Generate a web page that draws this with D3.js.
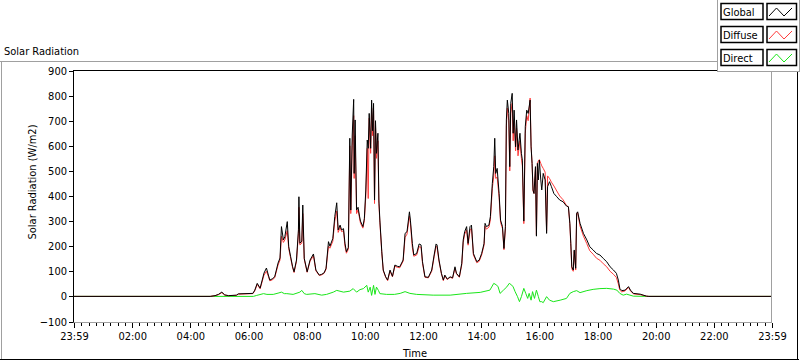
<!DOCTYPE html>
<html><head><meta charset="utf-8">
<script src="https://cdn.jsdelivr.net/npm/d3@7"></script>
<style>
body{margin:0;background:#fff;overflow:hidden;}
svg text{font-family:"DejaVu Sans Condensed","Noto Sans",sans-serif;font-size:11px;fill:#000;}
</style></head><body>
<svg id="c" width="800" height="361"></svg>
<script>
// Sample times (clock minutes after midnight; -1 = 23:59 of the previous day)
const timeMin = [-1,280,290,297,304,310,318,334,338,368,372,377,383,391,396,400,403,408,413,420,424,427,431,434,439,442,446,450,453,458,462,463,465,469,471,474,480,486,493,498,505,510,515,519,524,527,533,537,541,544,548,551,555,558,561,565,568,570,573,576,577,579,582,585,588,590,595,598,601,604,606,608,611,613,615,617,619,621,623,626,628,630,634,637,642,646,651,656,661,666,671,678,682,686,691,693,697,700,706,711,715,718,723,730,737,742,746,748,752,757,761,764,769,775,780,785,788,794,799,802,805,809,812,816,819,823,830,835,840,845,847,850,855,858,862,865,867,869,872,876,879,883,886,889,891,893,896,898,900,903,905,907,910,912,915,919,922,924,927,930,933,936,940,942,944,946,948,951,953,955,957,959,962,964,967,971,974,976,980,984,989,995,1001,1008,1015,1019,1022,1024,1026,1029,1031,1034,1036,1038,1043,1050,1057,1063,1070,1077,1084,1091,1098,1105,1112,1118,1122,1125,1129,1136,1143,1147,1153,1167,1180,1185,1439];
const globalRad = [0,0,3,8,17,6,3,5,10,12,25,52,33,93,113,85,65,70,78,133,153,278,225,238,298,198,158,118,98,145,265,397,212,220,364,152,98,145,169,105,85,88,94,112,218,200,231,318,373,265,284,265,270,212,178,195,630,344,643,785,490,703,344,355,320,300,278,310,424,623,590,729,590,782,660,769,384,700,570,650,384,304,178,105,78,65,105,80,125,120,118,145,251,258,337,304,211,165,171,209,205,138,78,76,105,165,209,205,145,92,65,85,69,78,74,118,92,78,132,225,258,278,211,278,284,171,138,145,171,211,291,278,284,318,450,517,630,490,510,410,304,278,191,278,703,782,729,517,769,809,650,742,596,703,583,650,570,543,300,676,742,729,782,596,530,424,410,517,240,530,464,543,464,424,490,464,251,437,457,437,410,397,384,377,360,357,291,211,118,105,185,112,331,337,291,251,225,198,185,171,165,151,138,118,105,92,65,32,23,25,39,25,12,9,1,0,0];
const diffuseRad = [0,0,3,7,15,5,3,4,9,11,22,48,30,85,100,80,62,66,74,125,145,240,215,225,262,190,152,114,95,140,250,355,205,212,330,148,96,140,162,102,83,86,92,108,200,192,220,300,340,255,275,258,262,200,172,188,600,330,600,720,470,640,330,345,312,292,272,302,400,590,390,710,570,750,640,740,370,680,550,620,370,295,172,102,76,63,100,78,120,116,114,140,235,248,320,292,195,160,165,198,196,132,76,74,100,158,200,196,140,90,63,82,67,76,72,112,90,76,126,215,248,265,204,262,272,165,134,140,165,204,280,268,276,305,430,480,560,470,475,395,295,270,186,270,680,750,700,500,730,770,620,700,580,670,560,620,550,520,290,650,720,700,790,600,530,420,410,510,245,530,540,545,530,520,510,495,260,480,470,455,440,420,400,385,362,357,285,200,110,100,180,105,331,335,280,240,210,182,168,152,144,130,118,100,88,75,50,25,18,22,36,22,10,7,1,0,0];
const directTime = [-1,286,369,376,390,397,410,420,427,433,438,451,465,469,474,479,496,510,520,534,541,555,568,575,582,589,596,603,606,610,613,617,620,623,627,630,644,660,672,682,692,706,740,775,809,837,857,865,871,874,878,885,892,897,902,905,909,914,918,922,927,931,935,938,942,945,949,953,957,960,964,967,974,980,988,1002,1015,1022,1029,1036,1043,1057,1070,1084,1098,1112,1119,1125,1132,1139,1146,1153,1180,1439];
const directRad = [0,0,0,4,11,8,8,13,17,11,11,8,17,24,11,8,11,5,8,17,24,17,21,31,17,27,31,44,17,37,4,44,8,37,24,11,8,8,12,19,12,8,5,5,12,16,25,52,45,38,12,25,38,52,45,38,19,-1,-21,-1,32,12,-8,12,-15,19,-8,25,-1,-21,-21,-25,-1,-15,-21,-15,-8,12,19,23,15,23,28,31,32,29,25,12,5,9,5,1,0,0];

const yTicks = [-100,0,100,200,300,400,500,600,700,800,900];
const xMajorMin = [-1,119,239,359,479,599,719,839,959,1079,1199,1319,1439];
const xMajorLabels = ["23:59","02:00","04:00","06:00","08:00","10:00","12:00","14:00","16:00","18:00","20:00","22:00","23:59"];
const seriesNames = ["Global","Diffuse","Direct"];
const seriesColors = ["#000000","#ff3b3b","#19e619"];

const svg = d3.select("#c");
const L = 73.5, R = 771.5, T = 70.5, B = 322;
const x = d3.scaleLinear().domain([-1,1439]).range([74,772]);
const y = d3.scaleLinear().domain([-100,900]).range([321.5,70.5]);

// outer panel frame
svg.append("rect").attr("width",800).attr("height",361).attr("fill","#fff");
svg.append("line").attr("x1",0).attr("x2",718).attr("y1",61.5).attr("y2",61.5).attr("stroke","#a0a0a0");
svg.append("line").attr("x1",1.5).attr("x2",1.5).attr("y1",61).attr("y2",360).attr("stroke","#a0a0a0");
svg.append("line").attr("x1",0).attr("x2",799).attr("y1",359.5).attr("y2",359.5).attr("stroke","#000");
svg.append("line").attr("x1",797.5).attr("x2",797.5).attr("y1",60).attr("y2",360).attr("stroke","#000");

svg.append("text").attr("x",4).attr("y",55).text("Solar Radiation");

// plot frame
svg.append("line").attr("x1",L).attr("x2",R).attr("y1",T).attr("y2",T).attr("stroke","#000");
svg.append("line").attr("x1",R).attr("x2",R).attr("y1",T).attr("y2",B).attr("stroke","#a0a0a0");

// lines
const clip = svg.append("clipPath").attr("id","pc").append("rect").attr("x",74).attr("y",71).attr("width",697).attr("height",251);
const g = svg.append("g").attr("clip-path","url(#pc)");
const mk = (ts,vs)=>d3.line().x((d,i)=>x(ts[i])).y((d,i)=>y(vs[i]))(vs);
g.append("path").attr("d",mk(directTime,directRad)).attr("fill","none").attr("stroke",seriesColors[2]).attr("stroke-width",1);
g.append("path").attr("d",mk(timeMin,diffuseRad)).attr("fill","none").attr("stroke",seriesColors[1]).attr("stroke-width",1);
g.append("path").attr("d",mk(timeMin,globalRad)).attr("fill","none").attr("stroke",seriesColors[0]).attr("stroke-width",1);

// y axis
const ya = svg.append("g").attr("transform","translate(74,0)")
  .call(d3.axisLeft(y).tickValues(yTicks).tickSize(5).tickPadding(2).tickFormat(d3.format("d")));
ya.select(".domain").remove();
ya.selectAll("line").attr("stroke","#000").attr("shape-rendering","crispEdges");
ya.selectAll("text").attr("font-size",11);
svg.append("line").attr("x1",L).attr("x2",L).attr("y1",T-0.5).attr("y2",B+1).attr("stroke","#000");

// x axis: minor ticks every 15 minutes
const minor = d3.range(-1,1440,15);
const xa1 = svg.append("g").attr("transform","translate(0,322.5)")
  .call(d3.axisBottom(x).tickValues(minor).tickSize(3).tickFormat(""));
xa1.select(".domain").remove();
xa1.selectAll("line").attr("stroke","#000").attr("shape-rendering","crispEdges");
const xa2 = svg.append("g").attr("transform","translate(0,322.5)")
  .call(d3.axisBottom(x).tickValues(xMajorMin).tickSize(5).tickPadding(5).tickFormat((d,i)=>xMajorLabels[i]));
xa2.select(".domain").remove();
xa2.selectAll("line").attr("stroke","#000").attr("shape-rendering","crispEdges");
svg.append("line").attr("x1",L).attr("x2",R+0.5).attr("y1",B+0.5).attr("y2",B+0.5).attr("stroke","#a0a0a0");

// axis titles
svg.append("text").attr("text-anchor","middle").attr("transform","translate(36,182) rotate(-90)").text("Solar Radiation (W/m2)");
svg.append("text").attr("text-anchor","middle").attr("x",415).attr("y",357).text("Time");

// legend
const lg = svg.append("g");
lg.append("rect").attr("x",717.5).attr("y",-1).attr("width",82).attr("height",72.5).attr("fill","#fff").attr("stroke","#a0a0a0");
const rowY = [3,26,49];
seriesNames.forEach((n,i)=>{
  const r = lg.append("g").attr("transform",`translate(0,${rowY[i]})`);
  r.append("rect").attr("x",721).attr("y",0.5).attr("width",42).attr("height",16).attr("fill","#fff").attr("stroke","#000").attr("stroke-width",1.5);
  r.append("text").attr("x",723).attr("y",12.5).text(n);
  r.append("rect").attr("x",767).attr("y",0.5).attr("width",29.5).attr("height",16).attr("fill","#fff").attr("stroke","#000").attr("stroke-width",1.5);
  r.append("path").attr("d",d3.line()([[769,13],[776.5,5],[784,13],[792,5]])).attr("fill","none").attr("stroke",seriesColors[i]);
});
</script>
</body></html>
